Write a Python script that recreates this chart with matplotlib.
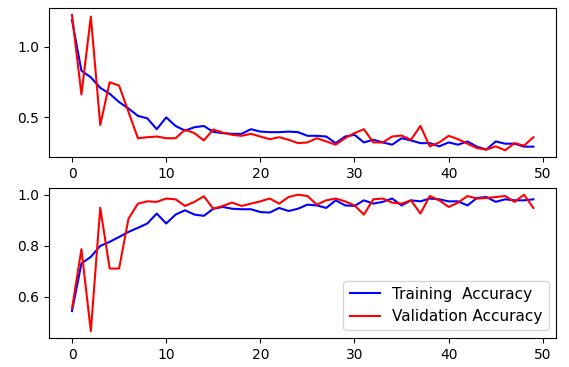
import numpy as np
import matplotlib
matplotlib.use('Agg')
import matplotlib.pyplot as plt

epochs = np.arange(50)

train_loss = [1.19, 0.83, 0.783, 0.708, 0.666, 0.607, 0.561, 0.509, 0.491, 0.414,
              0.498, 0.437, 0.404, 0.428, 0.437, 0.395, 0.386, 0.381, 0.381, 0.414,
              0.397, 0.393, 0.393, 0.397, 0.393, 0.367, 0.367, 0.362, 0.315, 0.362,
              0.374, 0.32, 0.339, 0.32, 0.304, 0.35, 0.334, 0.315, 0.315, 0.292,
              0.32, 0.304, 0.327, 0.29, 0.269, 0.327, 0.311, 0.311, 0.29, 0.29]
val_loss = [1.227, 0.661, 1.215, 0.444, 0.748, 0.724, 0.537, 0.35, 0.357, 0.362,
            0.35, 0.35, 0.41, 0.386, 0.334, 0.412, 0.39, 0.374, 0.367, 0.381,
            0.362, 0.343, 0.357, 0.339, 0.315, 0.32, 0.35, 0.327, 0.304, 0.35,
            0.386, 0.414, 0.32, 0.32, 0.362, 0.369, 0.339, 0.437, 0.292, 0.32,
            0.367, 0.343, 0.311, 0.28, 0.269, 0.292, 0.264, 0.315, 0.297, 0.357]

train_acc = [0.544, 0.731, 0.757, 0.80, 0.816, 0.835, 0.855, 0.871, 0.888, 0.927,
             0.888, 0.923, 0.94, 0.923, 0.918, 0.946, 0.953, 0.946, 0.944, 0.944,
             0.933, 0.931, 0.949, 0.937, 0.946, 0.962, 0.959, 0.949, 0.979, 0.959,
             0.957, 0.979, 0.966, 0.973, 0.986, 0.959, 0.979, 0.975, 0.986, 0.983,
             0.975, 0.975, 0.959, 0.988, 0.992, 0.973, 0.983, 0.979, 0.979, 0.983]
val_acc = [0.554, 0.787, 0.465, 0.95, 0.711, 0.711, 0.907, 0.966, 0.975, 0.973,
           0.986, 0.983, 0.957, 0.973, 0.995, 0.946, 0.957, 0.97, 0.957, 0.966,
           0.975, 0.986, 0.966, 0.992, 1.001, 0.996, 0.962, 0.979, 0.986, 0.975,
           0.959, 0.923, 0.983, 0.986, 0.97, 0.966, 0.979, 0.927, 0.996, 0.979,
           0.953, 0.97, 0.996, 0.986, 0.988, 0.992, 0.996, 0.973, 1.001, 0.949]

fig = plt.figure(figsize=(5.69, 3.67), dpi=100)
ax1 = fig.add_axes([0.086, 0.572, 0.892, 0.406])
ax1.plot(epochs, train_loss, 'b', label='Training  Loss')
ax1.plot(epochs, val_loss, 'r', label='Validation Loss')
ax1.set_xticks([0, 10, 20, 30, 40, 50])
ax1.set_yticks([0.5, 1.0])

ax2 = fig.add_axes([0.086, 0.079, 0.892, 0.409])
ax2.plot(epochs, train_acc, 'b', label='Training  Accuracy')
ax2.plot(epochs, val_acc, 'r', label='Validation Accuracy')
ax2.set_xticks([0, 10, 20, 30, 40, 50])
ax2.set_yticks([0.6, 0.8, 1.0])
ax2.legend(loc='lower right', fontsize=11)

fig.savefig('out.png', dpi=100)
